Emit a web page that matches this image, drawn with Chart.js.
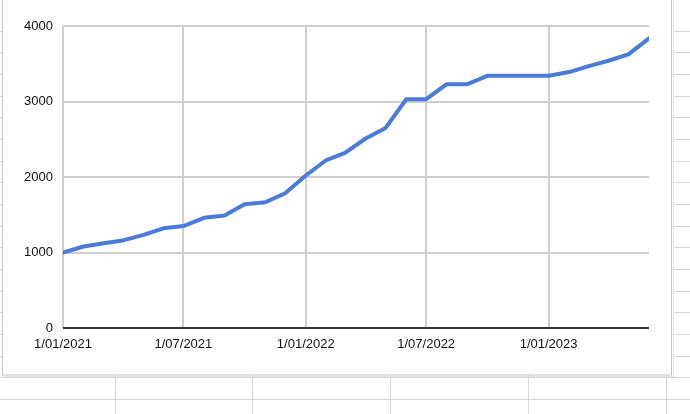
<!DOCTYPE html>
<html>
<head>
<meta charset="utf-8">
<script src="https://cdn.jsdelivr.net/npm/chart.js@4/dist/chart.umd.min.js"></script>
<style>
  html, body { margin: 0; padding: 0; background: #fff; }
  #wrap { position: relative; width: 690px; height: 414px; overflow: hidden; }
  canvas { display: block; }
</style>
</head>
<body>
<div id="wrap"><canvas id="chart" width="690" height="414"></canvas></div>
<script>
// monthly points, first of each month
const dates = [
  "2021-01-01", "2021-02-01", "2021-03-01", "2021-04-01", "2021-05-01", "2021-06-01",
  "2021-07-01", "2021-08-01", "2021-09-01", "2021-10-01", "2021-11-01", "2021-12-01",
  "2022-01-01", "2022-02-01", "2022-03-01", "2022-04-01", "2022-05-01", "2022-06-01",
  "2022-07-01", "2022-08-01", "2022-09-01", "2022-10-01", "2022-11-01", "2022-12-01",
  "2023-01-01", "2023-02-01", "2023-03-01", "2023-04-01", "2023-05-01", "2023-06-01",
];
const values = [
  1000, 1080, 1120, 1160, 1230, 1320,
  1350, 1460, 1490, 1640, 1665, 1785,
  2020, 2225, 2320, 2510, 2650, 3030,
  3030, 3230, 3230, 3340, 3340, 3340,
  3340, 3390, 3465, 3540, 3625, 3835,
];
const tickDates = ["2021-01-01", "2021-07-01", "2022-01-01", "2022-07-01", "2023-01-01"];
const tickLabels = ["1/01/2021", "1/07/2021", "1/01/2022", "1/07/2022", "1/01/2023"];
const yTicks = [0, 1000, 2000, 3000, 4000];

const DAY = 86400000;
const t0 = Date.parse(dates[0]);
const dayOf = (s) => Math.round((Date.parse(s) - t0) / DAY);

const points = dates.map((d, i) => ({ x: dayOf(d), y: values[i] }));

// spreadsheet cells behind the embedded chart
const sheetBackdrop = {
  id: "sheetBackdrop",
  beforeDraw(chart) {
    const c = chart.ctx;
    c.save();
    c.fillStyle = "#fff";
    c.fillRect(0, 0, chart.width, chart.height);
    c.strokeStyle = "#d6d6d6";
    c.lineWidth = 1;
    // row lines
    for (let y = 30.5; y < chart.height; y += 21.67) {
      const yy = Math.round(y) + 0.5;
      c.beginPath();
      if (yy < 375) {
        c.moveTo(0, yy); c.lineTo(2, yy);
        c.moveTo(673, yy); c.lineTo(690, yy);
      } else {
        c.moveTo(0, yy); c.lineTo(690, yy);
      }
      c.stroke();
    }
    // column lines below the chart frame
    [115, 252, 390, 528, 666].forEach((x) => {
      c.beginPath();
      c.moveTo(x + 0.5, 375); c.lineTo(x + 0.5, 414);
      c.stroke();
    });
    // chart frame
    c.fillStyle = "#fff";
    c.fillRect(2, -5, 670, 380);
    c.strokeStyle = "#c4c4c4";
    c.strokeRect(2.5, -5, 669, 380);
    c.strokeStyle = "#e6e6e6";
    c.beginPath();
    c.moveTo(673.5, -5); c.lineTo(673.5, 376.5); c.lineTo(3, 376.5);
    c.stroke();
    c.restore();
  },
};

const labelFont = { family: "'Liberation Sans', Arial, sans-serif", size: 13 };

new Chart(document.getElementById("chart"), {
  type: "line",
  data: {
    datasets: [
      {
        data: points,
        borderColor: "#4a7bdb",
        borderWidth: 4,
        borderJoinStyle: "round",
        borderCapStyle: "round",
        pointRadius: 0,
        tension: 0,
        fill: false,
      },
    ],
  },
  options: {
    responsive: false,
    animation: false,
    layout: { padding: { top: 26, right: 41, left: 0, bottom: 0 } },
    plugins: {
      legend: { display: false },
      tooltip: { enabled: false },
    },
    scales: {
      x: {
        type: "linear",
        min: dayOf(dates[0]),
        max: dayOf(dates[dates.length - 1]),
        afterBuildTicks: (scale) => {
          scale.ticks = tickDates.map((d) => ({ value: dayOf(d) }));
        },
        afterFit: (scale) => {
          scale.height = 86;
        },
        ticks: {
          autoSkip: false,
          maxRotation: 0,
          padding: 9,
          color: "#111",
          font: labelFont,
          callback: (v, i) => tickLabels[i],
        },
        grid: { color: "#cfcfcf", lineWidth: 2, drawTicks: false },
        border: { display: false },
      },
      y: {
        min: 0,
        max: 4000,
        afterBuildTicks: (scale) => {
          scale.ticks = yTicks.map((v) => ({ value: v }));
        },
        afterFit: (scale) => {
          scale.width = 63;
        },
        ticks: {
          padding: 10,
          color: "#111",
          font: labelFont,
          callback: (v) => String(v),
        },
        grid: {
          color: (ctx) => (ctx.tick && ctx.tick.value === 0 ? "#333" : "#cfcfcf"),
          lineWidth: 2,
          drawTicks: false,
          z: 0,
        },
        border: { display: false },
      },
    },
  },
  plugins: [sheetBackdrop],
});
</script>
</body>
</html>
